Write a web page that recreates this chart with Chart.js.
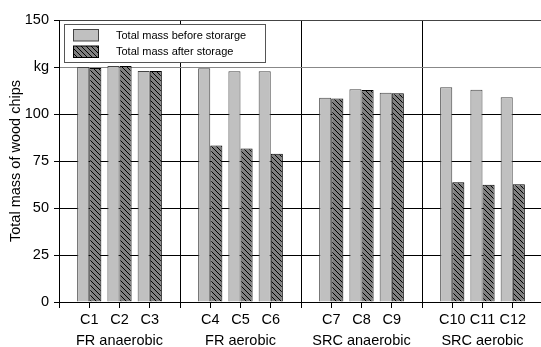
<!DOCTYPE html>
<html>
<head>
<meta charset="utf-8">
<script src="https://cdn.jsdelivr.net/npm/chart.js@4"></script>
<style>
    html, body { margin: 0; padding: 0; background: #fff; overflow: hidden; }
    #wrap { width: 541px; height: 347px; overflow: hidden; }
</style>
</head>
<body>
<div id="wrap"><canvas id="chart" width="544" height="347"></canvas></div>
<script>
// blank slots separate the four storage groups
const categories = ['', 'C1', 'C2', 'C3', '', 'C4', 'C5', 'C6', '', 'C7', 'C8', 'C9', '', 'C10', 'C11', 'C12', ''];
const groupNames = ['FR anaerobic', 'FR aerobic', 'SRC anaerobic', 'SRC aerobic'];
const seriesNames = ['Total mass before storarge', 'Total mass after storage'];
const beforeStorage = [null, 125.0, 125.5, 122.9, null, 124.3, 122.7, 122.7, null, 108.7, 113.1, 111.3, null, 114.2, 112.9, 108.9, null];
const afterStorage = [null, 124.5, 125.5, 122.9, null, 83.3, 81.6, 78.9, null, 108.3, 112.8, 111.0, null, 63.7, 62.4, 62.6, null];
const yTicks = [0, 25, 50, 75, 100, 125, 150];

const FONT = "'Liberation Sans', Arial, sans-serif";

function makeHatch() {
    const size = 5;
    const c = document.createElement('canvas');
    c.width = size; c.height = size;
    const g = c.getContext('2d');
    g.fillStyle = '#808080';
    g.fillRect(0, 0, size, size);
    g.strokeStyle = '#000';
    g.lineWidth = 1;
    g.beginPath();
    g.moveTo(-1, -1); g.lineTo(size + 1, size + 1);
    g.moveTo(-1, size - 1); g.lineTo(1, size + 1);
    g.moveTo(size - 1, -1); g.lineTo(size + 1, 1);
    g.stroke();
    return g.createPattern(c, 'repeat');
}
const hatch = makeHatch();

// group name goes under the middle label of each group
const xLabels = categories.map((c, i) => {
    if (c !== '' && i % 4 === 2) return [c, groupNames[(i - 2) / 4]];
    return c;
});

const boxLegend = {
    id: 'boxLegend',
    afterDraw(chart) {
        const ctx = chart.ctx;
        ctx.save();
        ctx.fillStyle = '#fff';
        ctx.fillRect(64.5, 24.5, 201, 38);
        ctx.strokeStyle = '#555';
        ctx.lineWidth = 1;
        ctx.strokeRect(64.5, 24.5, 201, 38);
        chart.data.datasets.forEach((ds, i) => {
            const y = 29.5 + i * 16.5;
            ctx.fillStyle = ds.backgroundColor;
            ctx.fillRect(73.5, y, 25, 11.5);
            ctx.strokeStyle = ds.borderColor;
            ctx.strokeRect(73.5, y, 25, 11.5);
            ctx.fillStyle = '#000';
            ctx.font = '11px ' + FONT;
            ctx.textBaseline = 'middle';
            ctx.textAlign = 'left';
            ctx.fillText(ds.label, 116, y + 6);
        });
        ctx.restore();
    }
};

new Chart(document.getElementById('chart'), {
    type: 'bar',
    data: {
        labels: xLabels,
        datasets: [{
            label: seriesNames[0],
            data: beforeStorage,
            backgroundColor: '#c0c0c0',
            borderColor: '#444',
            borderWidth: 1
        }, {
            label: seriesNames[1],
            data: afterStorage,
            backgroundColor: hatch,
            borderColor: '#000',
            borderWidth: 1
        }]
    },
    options: {
        responsive: false,
        animation: false,
        layout: { padding: { top: 20, right: 1, left: 0, bottom: 0 } },
        datasets: { bar: { barPercentage: 1, categoryPercentage: 0.8 } },
        plugins: { legend: { display: false }, tooltip: { enabled: false } },
        scales: {
            x: {
                offset: false,
                grid: {
                    offset: false,
                    color: ctx => (ctx.index % 4 === 0 ? '#000' : 'rgba(0,0,0,0)'),
                    tickColor: '#000',
                    lineWidth: 1,
                    tickLength: 6
                },
                border: { color: '#000' },
                ticks: {
                    autoSkip: false,
                    maxRotation: 0,
                    padding: 1,
                    color: '#000',
                    font: { family: FONT, size: 14.5, lineHeight: 1.45 }
                },
                afterFit: s => { s.height = 45; }
            },
            y: {
                min: 0,
                max: 150,
                afterBuildTicks: s => { s.ticks = yTicks.map(v => ({ value: v })); },
                grid: {
                    color: ctx => {
                        const v = ctx.tick && ctx.tick.value;
                        if (v === 125) return '#888';
                        if (v === 150) return '#444';
                        return '#000';
                    },
                    tickColor: '#000',
                    tickLength: 5
                },
                border: { color: '#000' },
                ticks: {
                    padding: 5,
                    color: '#000',
                    font: { family: FONT, size: 14.5 },
                    callback: v => (v === 125 ? 'kg' : v)
                },
                title: {
                    display: true,
                    text: 'Total mass of wood chips',
                    color: '#000',
                    font: { family: FONT, size: 14.5 },
                    padding: { top: 7, bottom: 0 }
                },
                afterFit: s => { s.width = 59; }
            }
        }
    },
    plugins: [boxLegend]
});
</script>
</body>
</html>
